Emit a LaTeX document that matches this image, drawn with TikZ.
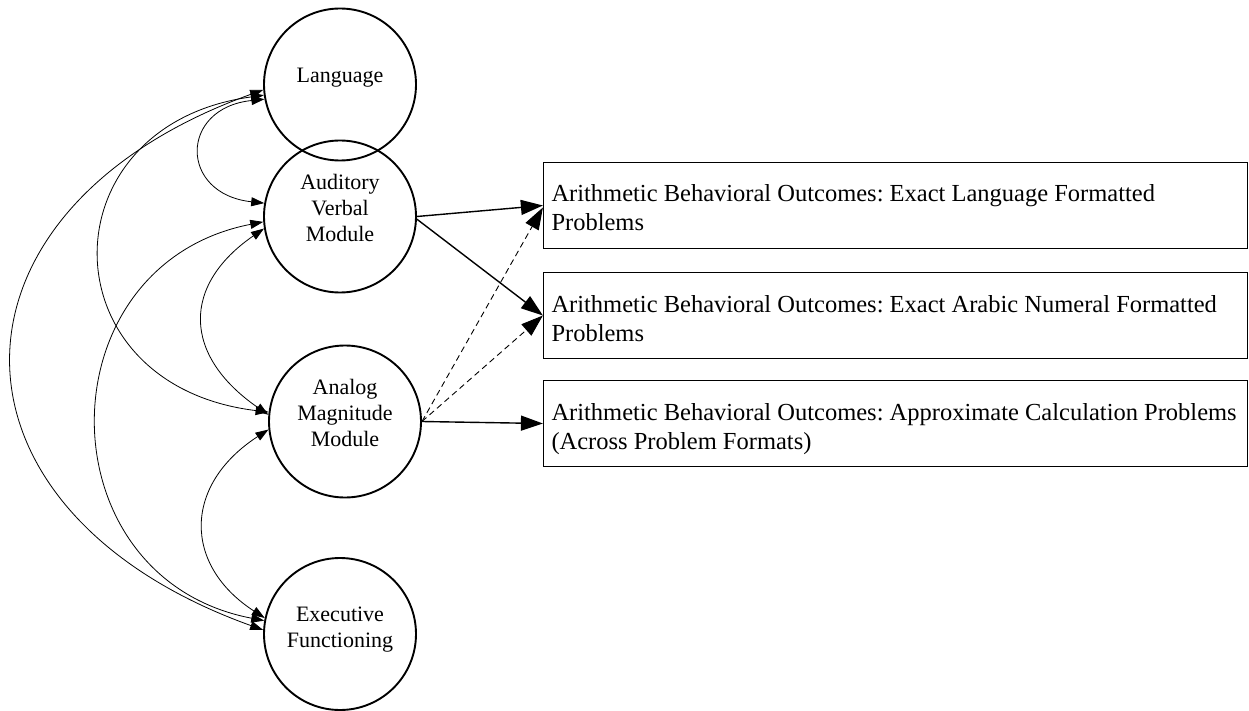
\documentclass[tikz,border=0pt]{standalone}
\usepackage{fontspec}
\setmainfont{Liberation Serif}
\usetikzlibrary{arrows.meta}
\frenchspacing
\newcommand{\topstrut}{\rule{0pt}{28pt}}
\newcommand{\botstrut}{\rule[-6pt]{0pt}{6pt}}
\begin{document}
\begin{tikzpicture}[x=1pt,y=-1pt,
  latent/.style={circle,draw,line width=1.9pt,minimum size=152pt,inner sep=0pt},
  ctext/.style={align=center,inner sep=0pt,font=\fontsize{22}{26}\selectfont},
  outbox/.style={draw,line width=1.2pt,minimum width=704pt,minimum height=86pt,
    text width=688pt,align=flush left,inner xsep=8pt,inner ysep=0pt,
    font=\fontsize{24.5}{29}\selectfont\frenchspacing},
  cov/.style={line width=0.8pt,{Triangle[length=13pt,width=9pt]}-{Triangle[length=13pt,width=9pt]}},
  reg/.style={line width=1.4pt,-{Triangle[length=22pt,width=15pt]}},
  dreg/.style={line width=0.9pt,dash pattern=on 6pt off 4pt,-{Triangle[length=22pt,width=15pt]}}
]
\useasboundingbox (0,0) rectangle (1249,711);

% latent factors
\node[latent] (lang) at (340,84.5) {};
\node[latent] (av)   at (340,216.5) {};
\node[latent] (anal) at (345,421.5) {};
\node[latent] (exec) at (340,634) {};

\node[ctext] (langT) at (340,78) {Language};
\node[ctext] (avT)   at (340,208) {Auditory\\Verbal\\Module};
\node[ctext] (analT) at (345,413) {Analog\\Magnitude\\Module};
\node[ctext] (execT) at (340,630) {Executive\\Functioning};

% outcome boxes
\node[outbox] (b1) at (895.5,205.5) {\topstrut Arithmetic Behavioral Outcomes: Exact Language Formatted\\Problems\botstrut};
\node[outbox] (b2) at (895.5,315.5) {\topstrut Arithmetic Behavioral Outcomes: Exact Arabic Numeral Formatted\\Problems\botstrut};
\node[outbox] (b3) at (895.5,423.5) {\topstrut Arithmetic Behavioral Outcomes: Approximate Calculation Problems\\(Across Problem Formats)\botstrut};

% covariances
\draw[cov] (lang.184) .. controls (-71,210) and (-71,510) .. (exec.177);
\draw[cov] (lang.188) .. controls (45,125) and (45,385) .. (anal.173);
\draw[cov] (lang.191) .. controls (179,108) and (179,194) .. (av.170);
\draw[cov] (av.184) .. controls (42,265) and (42,578) .. (exec.170);
\draw[cov] (av.189) .. controls (182,285) and (182,355) .. (anal.175);
\draw[cov] (anal.186) .. controls (183,485) and (183,565) .. (exec.168);

% regressions
\draw[reg] (av.east) -- (b1.west);
\draw[reg] (av.-2) -- (b2.west);
\draw[dreg] (anal.east) -- ([yshift=-2pt]b1.west);
\draw[dreg] (anal.east) -- (b2.west);
\draw[reg] (anal.east) -- (b3.west);
\end{tikzpicture}
\end{document}
